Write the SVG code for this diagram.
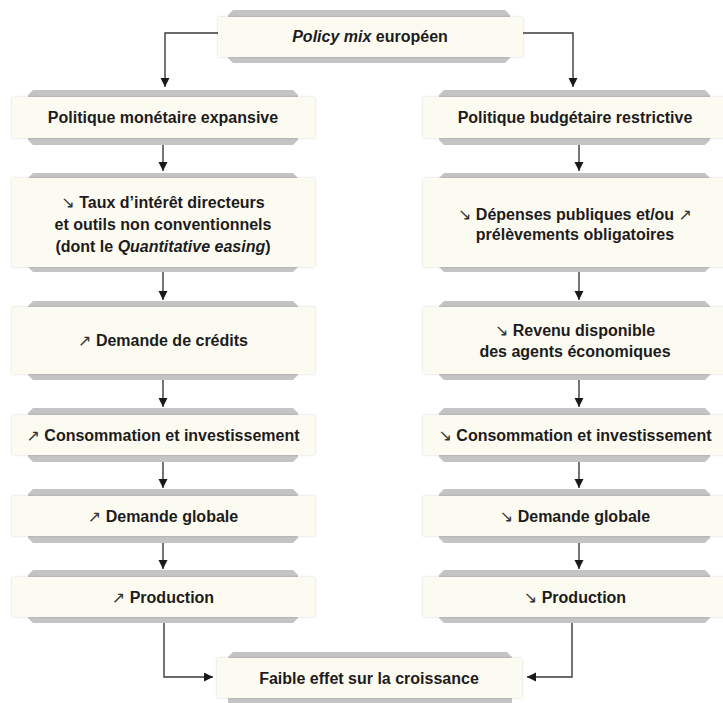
<svg xmlns="http://www.w3.org/2000/svg" width="723" height="703" viewBox="0 0 723 703">
<defs>
<style>
.tab{fill:#c4c4c4}
.box{fill:#fcfbf2;filter:url(#sh)}
text{font-family:"Liberation Sans",Arial,sans-serif;font-weight:bold;font-size:16px;fill:#1e1b1c;text-anchor:middle}
.ar{font-family:"DejaVu Sans",sans-serif;font-weight:normal;font-size:16px;fill:#333}
.it{font-style:italic}
.c{fill:none;stroke:#3a3a3a;stroke-width:1.4}
</style>
<filter id="sh" x="-5%" y="-20%" width="110%" height="140%">
<feDropShadow dx="0" dy="0" stdDeviation="1.3" flood-color="#000" flood-opacity="0.18"/>
</filter>
<marker id="ah" markerWidth="10" markerHeight="10" refX="9" refY="4.5" orient="auto" markerUnits="userSpaceOnUse">
<path d="M0,0 L9,4.5 L0,9 Z" fill="#1a1a1a"/>
</marker>
</defs>

<g id="connectors">
<path class="c" d="M218,33 H165 V87" marker-end="url(#ah)"/>
<path class="c" d="M523,33 H573 V87" marker-end="url(#ah)"/>
<path class="c" d="M163,145 V171" marker-end="url(#ah)"/>
<path class="c" d="M163,272 V300" marker-end="url(#ah)"/>
<path class="c" d="M163,380 V407" marker-end="url(#ah)"/>
<path class="c" d="M163,462 V488" marker-end="url(#ah)"/>
<path class="c" d="M163,543 V569" marker-end="url(#ah)"/>
<path class="c" d="M579,145 V171" marker-end="url(#ah)"/>
<path class="c" d="M579,272 V300" marker-end="url(#ah)"/>
<path class="c" d="M579,380 V407" marker-end="url(#ah)"/>
<path class="c" d="M579,462 V488" marker-end="url(#ah)"/>
<path class="c" d="M579,543 V569" marker-end="url(#ah)"/>
<path class="c" d="M164,623 V677 H213" marker-end="url(#ah)"/>
<path class="c" d="M572,623 V677 H527" marker-end="url(#ah)"/>
</g>

<g id="top">
<path class="tab" d="M233,10 H505 L510,15 V58 L505,63 H233 L228,58 V15 Z"/>
<rect class="box" x="218" y="17" width="305" height="40"/>
<text x="370" y="42"><tspan class="it">Policy mix</tspan> européen</text>
</g>

<g id="l1">
<path class="tab" d="M33,90 H293 L298,95 V140 L293,145 H33 L28,140 V95 Z"/>
<rect class="box" x="12" y="97" width="303" height="41"/>
<text x="163" y="123">Politique monétaire expansive</text>
</g>
<g id="l2">
<path class="tab" d="M33,173 H293 L298,178 V267 L293,272 H33 L28,267 V178 Z"/>
<rect class="box" x="12" y="178" width="303" height="89"/>
<text x="163" y="208"><tspan class="ar">↘</tspan> Taux d’intérêt directeurs</text>
<text x="163" y="230">et outils non conventionnels</text>
<text x="163" y="252">(dont le <tspan class="it">Quantitative easing</tspan>)</text>
</g>
<g id="l3">
<path class="tab" d="M33,301 H293 L298,306 V375 L293,380 H33 L28,375 V306 Z"/>
<rect class="box" x="12" y="307" width="303" height="67"/>
<text x="163" y="346"><tspan class="ar">↗</tspan> Demande de crédits</text>
</g>
<g id="l4">
<path class="tab" d="M33,408 H293 L298,413 V457 L293,462 H33 L28,457 V413 Z"/>
<rect class="box" x="12" y="415" width="303" height="40"/>
<text x="163" y="441"><tspan class="ar">↗</tspan> Consommation et investissement</text>
</g>
<g id="l5">
<path class="tab" d="M33,489 H293 L298,494 V538 L293,543 H33 L28,538 V494 Z"/>
<rect class="box" x="12" y="496" width="303" height="40"/>
<text x="163" y="522"><tspan class="ar">↗</tspan> Demande globale</text>
</g>
<g id="l6">
<path class="tab" d="M33,570 H293 L298,575 V618 L293,623 H33 L28,618 V575 Z"/>
<rect class="box" x="12" y="577" width="303" height="40"/>
<text x="163" y="603"><tspan class="ar">↗</tspan> Production</text>
</g>

<g id="r1">
<path class="tab" d="M444,90 H705 L710,95 V140 L705,145 H444 L439,140 V95 Z"/>
<rect class="box" x="423" y="97" width="304" height="41"/>
<text x="575" y="123">Politique budgétaire restrictive</text>
</g>
<g id="r2">
<path class="tab" d="M444,173 H705 L710,178 V267 L705,272 H444 L439,267 V178 Z"/>
<rect class="box" x="423" y="178" width="304" height="89"/>
<text x="575" y="220"><tspan class="ar">↘</tspan> Dépenses publiques et/ou <tspan class="ar">↗</tspan></text>
<text x="575" y="240">prélèvements obligatoires</text>
</g>
<g id="r3">
<path class="tab" d="M444,301 H705 L710,306 V375 L705,380 H444 L439,375 V306 Z"/>
<rect class="box" x="423" y="307" width="304" height="67"/>
<text x="575" y="336"><tspan class="ar">↘</tspan> Revenu disponible</text>
<text x="575" y="357">des agents économiques</text>
</g>
<g id="r4">
<path class="tab" d="M444,408 H705 L710,413 V457 L705,462 H444 L439,457 V413 Z"/>
<rect class="box" x="423" y="415" width="304" height="40"/>
<text x="575" y="441"><tspan class="ar">↘</tspan> Consommation et investissement</text>
</g>
<g id="r5">
<path class="tab" d="M444,489 H705 L710,494 V538 L705,543 H444 L439,538 V494 Z"/>
<rect class="box" x="423" y="496" width="304" height="40"/>
<text x="575" y="522"><tspan class="ar">↘</tspan> Demande globale</text>
</g>
<g id="r6">
<path class="tab" d="M444,570 H705 L710,575 V618 L705,623 H444 L439,618 V575 Z"/>
<rect class="box" x="423" y="577" width="304" height="40"/>
<text x="575" y="603"><tspan class="ar">↘</tspan> Production</text>
</g>

<g id="final">
<path class="tab" d="M233,652 H507 L512,657 V703 H228 V657 Z"/>
<rect class="box" x="217" y="658" width="305" height="40"/>
<text x="369" y="684">Faible effet sur la croissance</text>
</g>
</svg>
